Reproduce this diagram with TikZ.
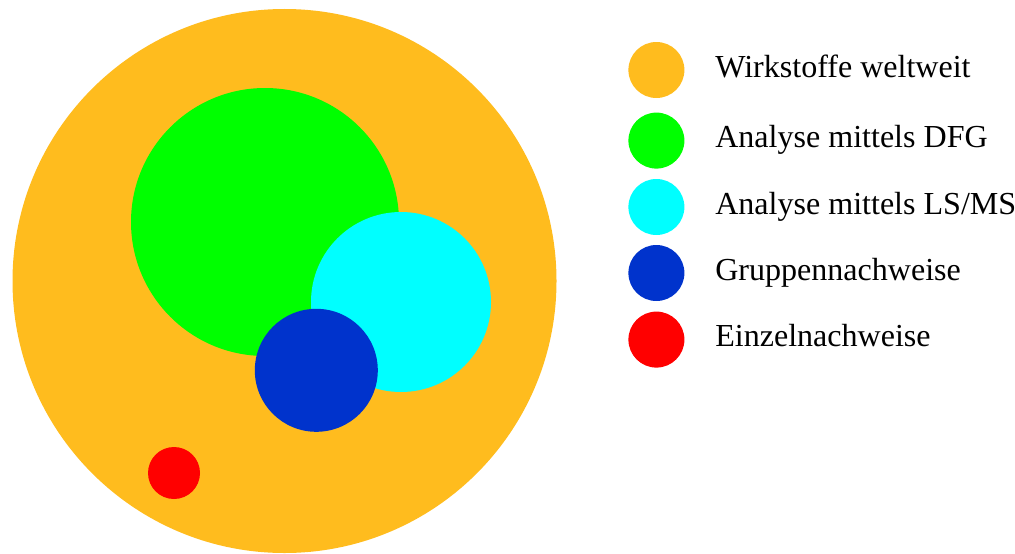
\documentclass[tikz,border=0pt]{standalone}
\usepackage{fontspec}
\setmainfont{Liberation Serif}
\usetikzlibrary{calc,positioning}

\definecolor{cWelt}{RGB}{255,188,30}
\definecolor{cDFG}{RGB}{0,255,0}
\definecolor{cLSMS}{RGB}{0,255,255}
\definecolor{cGrp}{RGB}{0,51,204}
\definecolor{cEinz}{RGB}{255,0,0}

\begin{document}
\begin{tikzpicture}[%
    text=black,
    node font=\fontsize{22.8}{27}\selectfont,
    blob/.style={circle, inner sep=0, outer sep=0},
    key/.style={circle, inner sep=0, outer sep=0, minimum size=1.4cm},
    lbl/.style={anchor=base west, inner sep=0}]

  \useasboundingbox (0,0) rectangle (25.375,-13.825);

  % --- sets ------------------------
  \node (WW) at (7.1125,-7.025) [blob, fill=cWelt, minimum size=13.6cm] {};
  \node (DFG) at (6.625,-5.55) [blob, fill=cDFG, minimum size=6.7cm] {};
  \node (LSMS) at (10.025,-7.55) [blob, fill=cLSMS, minimum size=4.5cm] {};
  \node (GRP) at (7.9075,-9.2575) [blob, fill=cGrp, minimum size=3.075cm] {};
  \node (EIN) at (4.35,-11.825) [blob, fill=cEinz, minimum size=1.3cm] {};

  % --- legend ----------------------
  \node (kWW) at (16.41,-1.75) [key, fill=cWelt] {};
  \node (kDFG) at (16.41,-3.515) [key, fill=cDFG] {};
  \node (kLSMS) at (16.41,-5.175) [key, fill=cLSMS] {};
  \node (kGRP) at (16.41,-6.825) [key, fill=cGrp] {};
  \node (kEIN) at (16.41,-8.49) [key, fill=cEinz] {};

  \node (tWW) at ($(kWW.east)+(0.765cm,-0.18cm)$) [lbl] {Wirkstoffe weltweit};
  \node (tDFG) at ($(kDFG.east)+(0.765cm,-0.18cm)$) [lbl] {Analyse mittels DFG};
  \node (tLSMS) at ($(kLSMS.east)+(0.765cm,-0.18cm)$) [lbl] {Analyse mittels LS/MS};
  \node (tGRP) at ($(kGRP.east)+(0.765cm,-0.18cm)$) [lbl] {Gruppennachweise};
  \node (tEIN) at ($(kEIN.east)+(0.765cm,-0.18cm)$) [lbl] {Einzelnachweise};
\end{tikzpicture}
\end{document}
